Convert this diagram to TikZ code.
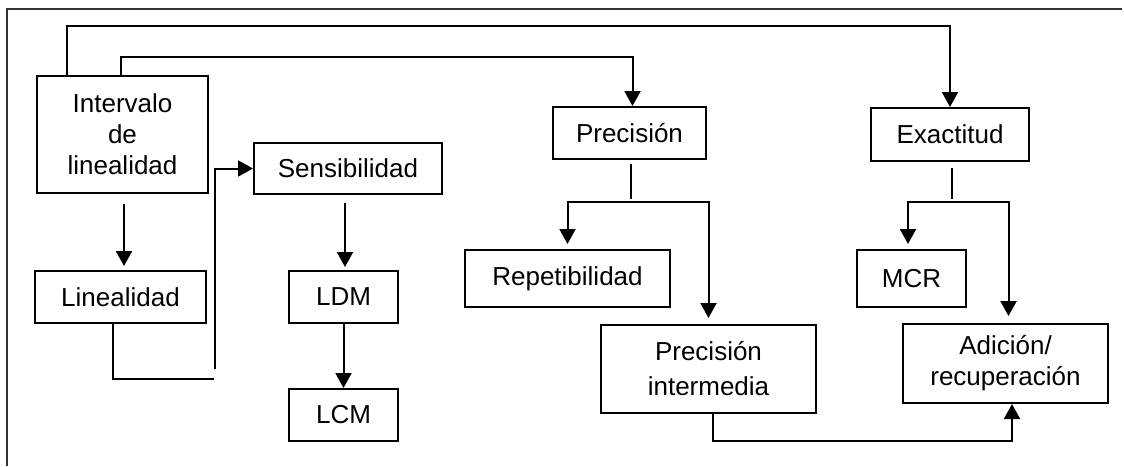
\documentclass[tikz,border=0pt]{standalone}
\usepackage{fontspec}
\setmainfont{Liberation Sans}
\usetikzlibrary{arrows.meta}
\begin{document}
\begin{tikzpicture}[x=1pt,y=-1pt,
  box/.style={draw, line width=2pt, inner sep=0pt, align=center,
    font=\fontsize{26}{31}\selectfont},
  conn/.style={line width=2pt},
  arr/.style={conn, -{Triangle[length=15pt,width=16pt]}},
  frameline/.style={line width=2pt, draw=black!80}]
\useasboundingbox (0,0) rectangle (1124,466);

% open frame (left and top edges)
\draw[frameline] (7,466) -- (7,9) -- (1122,9);

% boxes
\node[box, minimum width=171pt, minimum height=117pt] (int)  at (122.5,134.5) {Intervalo\\de\\linealidad};
\node[box, minimum width=171pt, minimum height=52pt]  (lin)  at (120.5,297)   {Linealidad};
\node[box, minimum width=188pt, minimum height=51pt]  (sens) at (348,168.5)   {Sensibilidad};
\node[box, minimum width=109pt, minimum height=52pt]  (ldm)  at (343.5,297)   {LDM};
\node[box, minimum width=109pt, minimum height=52pt]  (lcm)  at (343.5,415)   {LCM};
\node[box, minimum width=153pt, minimum height=52pt]  (prec) at (629.5,133)   {Precisión};
\node[box, minimum width=205pt, minimum height=57pt]  (rep)  at (567.5,278.5) {Repetibilidad};
\node[box, minimum width=215pt, minimum height=88pt,
      font=\fontsize{26}{35}\selectfont]              (pint) at (708.5,369)   {Precisión\\intermedia};
\node[box, minimum width=158pt, minimum height=53pt]  (ex)   at (950,134.5)   {Exactitud};
\node[box, minimum width=109pt, minimum height=57pt]  (mcr)  at (911.5,278.5) {MCR};
\node[box, minimum width=205pt, minimum height=79pt]  (add)  at (1005.5,363.5) {Adición/\\recuperación};

% long connectors over the top
\coordinate (t1) at (67,26);
\coordinate (t2) at (121,57);
\draw[arr] (int.north west -| t1) -- (t1) -| (ex.north);
\draw[arr] (int.north -| t2) -- (t2) -| ([xshift=3pt]prec.north);

% left column
\draw[arr, shorten <=10pt, shorten >=4pt] ([xshift=1.5pt]int.south) -- ([xshift=1.5pt]int.south |- lin.north);
\coordinate (lb) at (214,379);
\coordinate (lv) at (215,369);
\draw[conn] ([xshift=-7.5pt]lin.south) |- (lb);
\draw[arr] (lv) |- (sens.west);

% sensitivity chain
\draw[arr, shorten <=8pt, shorten >=3pt] ([xshift=-3pt]sens.south) -- ([xshift=-3pt]sens.south |- ldm.north);
\draw[arr] (ldm) -- (lcm);

% precision branch
\coordinate (pj) at (0,202);
\draw[conn, shorten <=4pt, shorten >=3pt] ([xshift=1.5pt]prec.south) -- ([xshift=1.5pt]prec.south |- pj);
\draw[arr, shorten >=5pt] ([xshift=1.5pt]prec.south |- pj) -| (rep.north);
\draw[arr, shorten >=6pt] ([xshift=1.5pt]prec.south |- pj) -| (pint.north);

% accuracy branch
\coordinate (ej) at (0,202);
\draw[conn, shorten <=6pt, shorten >=3pt] ([xshift=2pt]ex.south) -- ([xshift=2pt]ex.south |- ej);
\draw[arr, shorten >=5pt] ([xshift=2pt]ex.south |- ej) -| ([xshift=-3.5pt]mcr.north);
\draw[arr, shorten >=7pt] ([xshift=2pt]ex.south |- ej) -| ([xshift=3pt]add.north);

% intermediate precision feeds spike recovery
\coordinate (bj) at (0,441);
\draw[arr] ([xshift=4.5pt]pint.south) -- ([xshift=4.5pt]pint.south |- bj) -| ([xshift=6.5pt]add.south);
\end{tikzpicture}
\end{document}
